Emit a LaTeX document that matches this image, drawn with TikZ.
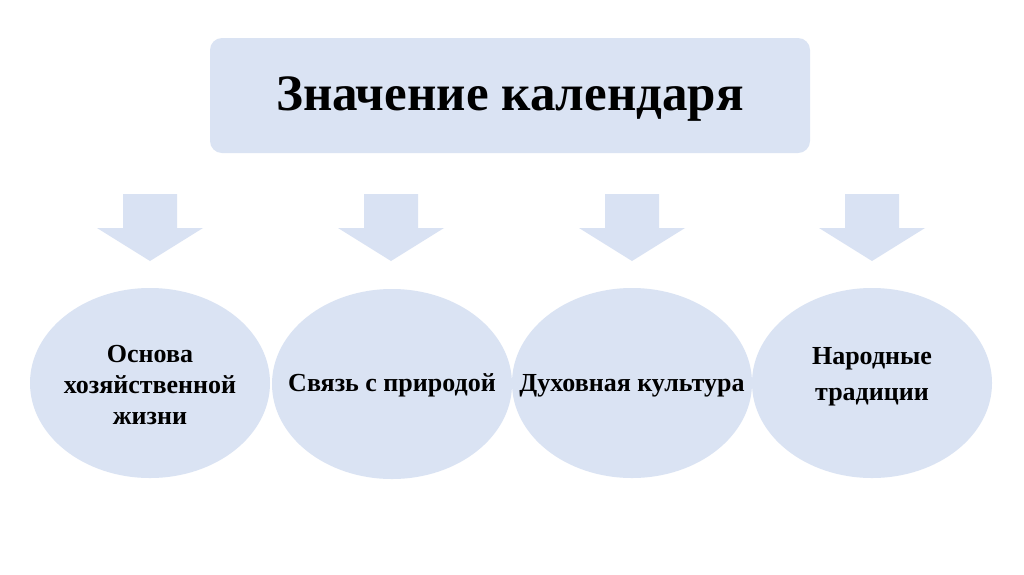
\documentclass[tikz,border=0pt]{standalone}
\usepackage{fontspec}
\setmainfont{Liberation Serif}
\usepackage{tikz}
\usetikzlibrary{
  shapes.geometric,
  positioning,
  calc
}
\definecolor{calFill}{HTML}{DAE3F3}
\definecolor{calArrow}{HTML}{D9E2F3}
\tikzset{
  calbox/.style={
    fill=calFill, rounded corners=12pt, minimum width=600pt, minimum height=115pt,
    inner sep=0pt
  },
  caltitle/.style={font=\fontsize{51}{56}\selectfont\bfseries, anchor=base},
  calellipse/.style={
    ellipse, fill=calFill, minimum width=240pt, minimum height=190pt, inner sep=0pt
  },
  caltext/.style={font=\fontsize{26}{31}\selectfont\bfseries, align=center, inner sep=0pt},
  calarrow/.style={fill=calArrow}
}

\begin{document}
\begin{tikzpicture}[x=1pt, y=-1pt]
  \useasboundingbox[fill=white] (0,0) rectangle (1024,574);
  \node[calbox] (top) at (510,95.5) {};
  \node[caltitle] (title) at (510,110) {Значение календаря};
  % block arrows
  \foreach \x [count=\i] in {150,391,632,872} {
    \coordinate (arr\i) at (\x,194);
    \fill[calarrow] ($(arr\i)+(-27,0)$) -- ++(54,0) -- ++(0,34) -- ++(26,0)
      -- ($(arr\i)+(0,67)$) -- ($(arr\i)+(-53,34)$) -- ++(26,0) -- cycle;
  }
  % ellipses first, texts on top
  \node[calellipse] (e1) at (150,383) {};
  \node[calellipse] (e2) at (392,384) {};
  \node[calellipse] (e3) at (632,383) {};
  \node[calellipse] (e4) at (872,383) {};
  \node[caltext, yshift=-2pt] (t1) at (e1) {Основа\\хозяйственной\\жизни};
  \node[caltext, yshift=-1pt] (t2) at (e2) {Связь с природой};
  \node[caltext, yshift=-3pt] (t3) at (e3) {Духовная культура};
  \node[caltext, font=\fontsize{26}{36}\selectfont\bfseries, yshift=6pt] (t4) at (e4) {Народные\\традиции};
\end{tikzpicture}
\end{document}
